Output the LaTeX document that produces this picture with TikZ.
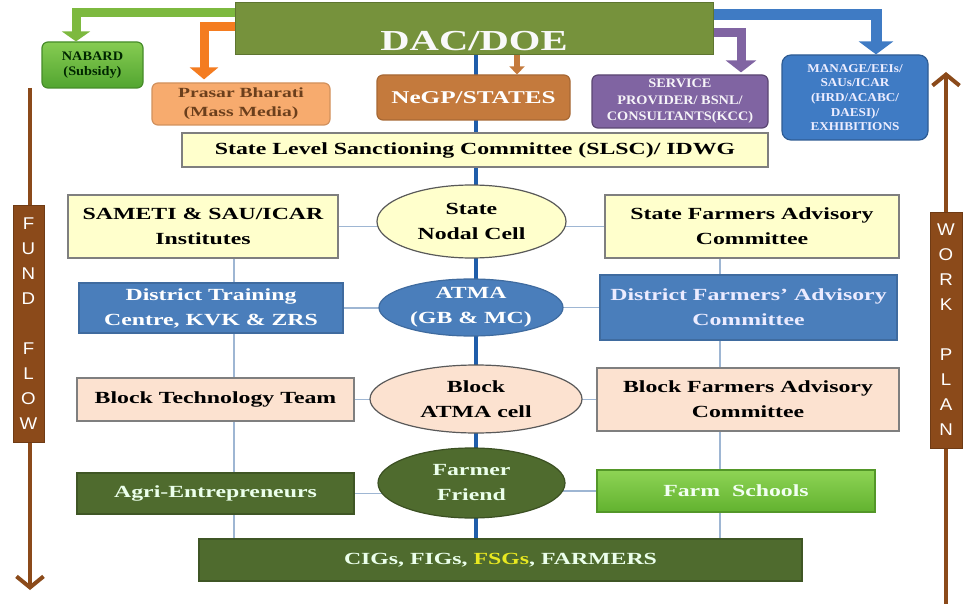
\documentclass[tikz,border=0pt]{standalone}
\usepackage{fontspec}
\setmainfont{Liberation Serif}[FakeStretch=1.4]
\newfontfamily\narrowser{Liberation Serif}[FakeStretch=1.1]
\newfontfamily\lettersans{Liberation Sans}[FakeStretch=1.1]
\usetikzlibrary{shapes.geometric,arrows.meta,backgrounds}
\definecolor{dacgreen}{HTML}{76923C}
\definecolor{nabtop}{HTML}{86CC52}
\definecolor{nabbot}{HTML}{52A530}
\definecolor{nabarrow}{HTML}{7DB93F}
\definecolor{orarrow}{HTML}{F47C20}
\definecolor{prasfill}{HTML}{F7AB6E}
\definecolor{prastext}{HTML}{6B3F1C}
\definecolor{negpfill}{HTML}{C47A3D}
\definecolor{purp}{HTML}{8064A2}
\definecolor{mblue}{HTML}{3F7BC4}
\definecolor{ylw}{HTML}{FFFFCC}
\definecolor{boxgray}{HTML}{7F7F7F}
\definecolor{dblue}{HTML}{4A7EBB}
\definecolor{peach}{HTML}{FCE2D0}
\definecolor{dkgreen}{HTML}{4F6B2E}
\definecolor{farmtop}{HTML}{8ED455}
\definecolor{farmbot}{HTML}{62B22F}
\definecolor{brownc}{HTML}{8B4A1A}
\definecolor{thinblue}{HTML}{9EB6D3}
\definecolor{cblue}{HTML}{1F5DAA}
\definecolor{fsgyellow}{HTML}{E8E820}
\newcommand\bodyfont{\bfseries\fontsize{17}{25}\selectfont}
\begin{document}
\begin{tikzpicture}[x=1pt,y=-1pt,
  base/.style={inner sep=0pt, align=center, font=\bodyfont, line width=1.2pt},
  ybox/.style={base, rectangle, fill=ylw, draw=boxgray, text=black},
  bbox/.style={base, rectangle, fill=dblue, draw=dblue!85!black, text=white},
  pbox/.style={base, rectangle, fill=peach, draw=boxgray, text=black},
  gbox/.style={base, rectangle, fill=dkgreen, draw=dkgreen!80!black, text=white},
  ell/.style={base, ellipse},
  rbox/.style={base, rectangle, rounded corners=6pt},
  blockarrow/.style={line join=miter},
  thinline/.style={draw=thinblue, line width=1.3pt},
  brownline/.style={draw=brownc, line width=4pt},
  letterbox/.style={rectangle, fill=brownc, draw=brownc!80!black, line width=1pt, inner sep=0pt, text=white, align=center, font=\lettersans\fontsize{17}{25}\selectfont}
]
\useasboundingbox (0,0) rectangle (971,604);

% top level
\node[rectangle, fill=dacgreen, draw=dacgreen!80!black, line width=1pt, minimum width=478, minimum height=52] (dac) at (474,29) {};
\node[inner sep=0pt, text=white!95!gray, font=\bfseries\fontsize{29}{30}\selectfont] (dactext) at (474,41) {DAC/DOE};

\node[rbox, top color=nabtop, bottom color=nabbot, draw=nabbot!85!black, minimum width=101, minimum height=46, text=black!85!green, font=\narrowser\bfseries\fontsize{13}{15}\selectfont] (nabard) at (92.5,65) {NABARD\\(Subsidy)};
\node[rbox, fill=prasfill, draw=prasfill!85!black, minimum width=178, minimum height=42, text=prastext, font=\bfseries\fontsize{14}{19}\selectfont] (prasar) at (241,104) {Prasar Bharati\\(Mass Media)};
\node[rbox, fill=negpfill, draw=negpfill!85!black, minimum width=193, minimum height=45, text=white, font=\bfseries\fontsize{18}{20}\selectfont] (negp) at (473.5,97.5) {NeGP/STATES};
\node[rbox, fill=purp, draw=purp!70!black, minimum width=176, minimum height=53, text=white!93!purp, font=\narrowser\bfseries\fontsize{13}{16.5}\selectfont] (service) at (680,101.5) {SERVICE\\PROVIDER/ BSNL/\\CONSULTANTS(KCC)};
\node[rbox, rounded corners=9pt, fill=mblue, draw=mblue!75!black, minimum width=146, minimum height=85, text=white!93!blue, font=\narrowser\bfseries\fontsize{12}{14.7}\selectfont] (manage) at (855,97.5) {MANAGE/EEIs/\\SAUs/ICAR\\(HRD/ACABC/\\DAESI)/\\EXHIBITIONS};

\node[ybox, minimum width=586, minimum height=34] (slsc) at (475,150) {State Level Sanctioning Committee (SLSC)/ IDWG};

% row 1
\node[ybox, minimum width=270, minimum height=63] (sameti) at (203,226.5) {SAMETI \& SAU/ICAR\\Institutes};
\node[ell, fill=ylw, draw=black!65, minimum width=189, minimum height=73] (snc) at (471.5,221.5) {State\\Nodal Cell};
\node[ybox, minimum width=294, minimum height=63] (sfac) at (752,226.5) {State Farmers Advisory\\Committee};

% row 2
\node[bbox, minimum width=264, minimum height=50] (dtc) at (211,308) {District Training\\Centre, KVK \& ZRS};
\node[ell, fill=dblue, draw=dblue!85!black, text=white, minimum width=184, minimum height=57] (atma) at (471,307.5) {ATMA\\(GB \& MC)};
\node[bbox, minimum width=297, minimum height=65, text=white!92!blue] (dfac) at (748.5,307.5) {District Farmers’ Advisory\\Committee};

% row 3
\node[pbox, minimum width=277, minimum height=43] (btt) at (215.5,399.5) {Block Technology Team};
\node[ell, fill=peach, draw=black!65, text=black, minimum width=212, minimum height=68] (bac) at (476,399) {Block\\ATMA cell};
\node[pbox, minimum width=302, minimum height=63] (bfac) at (748,399.5) {Block Farmers Advisory\\Committee};

% row 4
\node[gbox, minimum width=277, minimum height=41, text=white!92!green] (agri) at (215.5,493.5) {Agri-Entrepreneurs};
\node[ell, fill=dkgreen, draw=dkgreen!75!black, text=white!92!green, minimum width=187, minimum height=70] (ff) at (471.5,483) {Farmer\\Friend};
\node[base, rectangle, top color=farmtop, bottom color=farmbot, draw=farmbot!85!black, text=white!95!green, minimum width=278, minimum height=42] (farm) at (736,491) {Farm\ \ Schools};

% row 5
\node[gbox, minimum width=603, minimum height=42, text=white!92!green] (cigs) at (500.5,560) {CIGs, FIGs, \textcolor{fsgyellow}{FSGs}, FARMERS};

% side bars
\coordinate (fundtop) at (30,88);
\coordinate (fundtip) at (30,590);
\draw[brownline] (fundtop) -- (30,205);
\draw[brownline, -{Straight Barb[length=11pt,width=27pt]}] (30,442) -- (fundtip);
\node[letterbox, minimum width=31, minimum height=237] (fund) at (28.5,323.5) {F\\U\\N\\D\\[25pt]F\\L\\O\\W};

\coordinate (workbot) at (946,604);
\coordinate (worktip) at (946,72);
\draw[brownline] (workbot) -- (946,448);
\draw[brownline, -{Straight Barb[length=11pt,width=27pt]}] (946,212) -- (worktip);
\node[letterbox, minimum width=32, minimum height=236] (work) at (946,330) {W\\O\\R\\K\\[25pt]P\\L\\A\\N};

% block arrows
\coordinate (gy) at (0,13);   \coordinate (gx) at (76,0);
\coordinate (oy) at (0,27);   \coordinate (ox) at (204,0);
\coordinate (py) at (0,33);   \coordinate (px) at (741,0);
\coordinate (by) at (0,15);   \coordinate (bx) at (876,0);
\coordinate (nx) at (517,0);
\draw[blockarrow, draw=nabarrow, line width=9pt, -{Triangle[width=28pt,length=10pt]}] (dac.west |- gy) -| (gx |- nabard.north);
\draw[blockarrow, draw=orarrow, line width=9pt, shorten >=3pt, -{Triangle[width=28pt,length=12pt]}] (dac.west |- oy) -| (ox |- prasar.north);
\draw[blockarrow, draw=purp, line width=9pt, shorten >=2pt, -{Triangle[width=30pt,length=12pt]}] (dac.east |- py) -| (px |- service.north);
\draw[blockarrow, draw=mblue, line width=11pt, -{Triangle[width=34pt,length=13pt]}] (dac.east |- by) -| (bx |- manage.north);
\draw[blockarrow, draw=negpfill, line width=6pt, -{Triangle[width=15pt,length=8pt]}] (dac.south -| nx) -- (nx |- negp.north);

% connectors on background
\coordinate (cx) at (476,0);
\coordinate (lx) at (234,0);
\coordinate (rx) at (720,0);
\begin{scope}[on background layer]
  \fill[white] (0,0) rectangle (971,604);
  \draw[thinline] (sameti.south -| lx) -- (cigs.north -| lx);
  \draw[thinline] (sfac.south -| rx) -- (cigs.north -| rx);
  \draw[thinline] (sameti.east) -- (sameti.east -| snc.center);
  \draw[thinline] (sfac.west) -- (sfac.west -| snc.center);
  \draw[thinline] (dtc.east) -- (dtc.east -| atma.center);
  \draw[thinline] (dfac.west) -- (dfac.west -| atma.center);
  \draw[thinline] (btt.east) -- (btt.east -| bac.center);
  \draw[thinline] (bfac.west) -- (bfac.west -| bac.center);
  \draw[thinline] (agri.east) -- (agri.east -| ff.center);
  \draw[thinline] (farm.west) -- (farm.west -| ff.center);
  \draw[draw=cblue, line width=4pt] (dac.south -| cx) -- (cigs.north -| cx);
\end{scope}
\end{tikzpicture}
\end{document}
